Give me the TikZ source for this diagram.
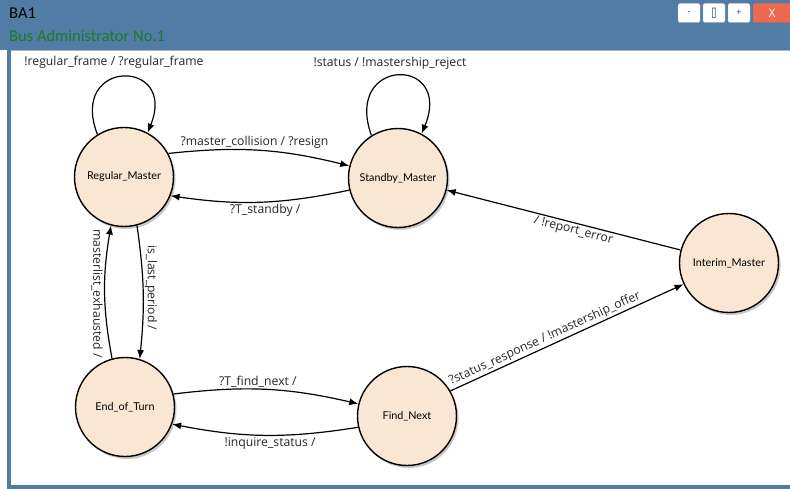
\documentclass[tikz,border=0pt]{standalone}
\usepackage{fontspec}
\setmainfont{Open Sans}
\newfontfamily\titlefont{Carlito}
\newfontfamily\nodefont{Lato}
\usetikzlibrary{arrows.meta,shadows}
\definecolor{barblue}{RGB}{80,124,165}
\definecolor{statefill}{RGB}{250,231,211}
\definecolor{titlegreen}{RGB}{30,122,40}
\definecolor{btnred}{RGB}{236,104,78}
\definecolor{btntext}{RGB}{40,60,140}
\tikzset{
  state/.style={circle, draw=black, line width=1.4pt, fill=statefill, minimum size=99pt, inner sep=0pt,
    font=\nodefont\fontsize{10.8}{12}\selectfont,
    drop shadow={shadow xshift=2pt, shadow yshift=-2.5pt, opacity=0.35, fill=black!60}},
  trans/.style={-{Latex[length=9pt,width=7pt]}, line width=1.2pt, black},
  elabel/.style={font=\fontsize{12.2}{14}\selectfont, text=black!85, inner sep=1.5pt},
  btn/.style={draw=black!25, fill=white, rounded corners=2pt, minimum width=22pt, minimum height=19pt, inner sep=0pt, font=\fontsize{9}{10}\selectfont, text=btntext}
}
\begin{document}
\begin{tikzpicture}[x=1pt,y=1pt]
\useasboundingbox (0,0) rectangle (790,-489);
% window
\fill[barblue] (0,0) rectangle (790,-50);
\fill[barblue] (7,-50) rectangle (11,-489);
\fill[barblue] (7,-485) rectangle (790,-489);
\fill[white] (11,-50) rectangle (790,-485);
\draw[black!30] (11,-50.5) -- (790,-50.5);
\node[anchor=west, inner sep=0pt, font=\titlefont\fontsize{16.5}{18}\selectfont] (ttl) at (9,-13) {BA1};
\node[anchor=west, inner sep=0pt, text=titlegreen, font=\titlefont\fontsize{16.5}{18}\selectfont] (sub) at (9,-36) {Bus Administrator No.1};
\node[btn] (bmin) at (689,-13) {-};
\node[btn] (bmax) at (714,-13) {\scalebox{0.8}[1.3]{[\kern-0.2pt]}};
\node[btn] (bplus) at (739,-13) {+};
\node[btn, fill=btnred, draw=btnred, text=white, minimum width=38pt, anchor=west, font=\fontsize{12}{13}\selectfont] (bx) at (753,-13) {X};
% states
\node[state] (RM) at (124,-177) {Regular\_Master};
\node[state] (SM) at (398,-178) {Standby\_Master};
\node[state] (EoT) at (125,-407) {End\_of\_Turn};
\node[state] (FN) at (407,-416) {Find\_Next};
\node[state] (IM) at (729,-263) {Interim\_Master};
% self loops
\draw[trans] (RM.122) .. controls (68,-58) and (178,-58) .. (RM.62);
\node[elabel] (l1) at (114,-62) {!regular\_frame / ?regular\_frame};
\draw[trans] (SM.122) .. controls (343,-56) and (454,-56) .. (SM.62);
\node[elabel] (l2) at (390,-63) {!status / !mastership\_reject};
% RM <-> SM
\draw[trans] (RM.28) to[bend left=10] node[elabel, above, pos=0.47] {?master\_collision / ?resign} (SM.166);
\draw[trans] (SM.194) to[bend left=10] node[elabel, below, pos=0.47] {?T\_standby /} (RM.-22);
% RM <-> EoT
\draw[trans] (RM.-75) to[bend left=7] node[elabel, rotate=-90, anchor=south, pos=0.45, xshift=2pt] {is\_last\_period /} (EoT.73);
\draw[trans] (EoT.105) to[bend left=10] node[elabel, rotate=-90, anchor=north, pos=0.48, xshift=-1pt] {masterlist\_exhausted /} (RM.-105);
% EoT <-> FN
\draw[trans] (EoT.15) to[bend left=10] node[elabel, above, pos=0.45] {?T\_find\_next /} (FN.166);
\draw[trans] (FN.193) to[bend left=10] node[elabel, below, pos=0.47] {!inquire\_status /} (EoT.-20);
% FN -> IM, IM -> SM
\draw[trans] (FN.30) -- node[elabel, sloped, above, pos=0.42] {?status\_response / !mastership\_offer} (IM.205);
\draw[trans] (IM.165) -- node[elabel, sloped, below, pos=0.45] {/ !report\_error} (SM.-14);
\end{tikzpicture}
\end{document}
